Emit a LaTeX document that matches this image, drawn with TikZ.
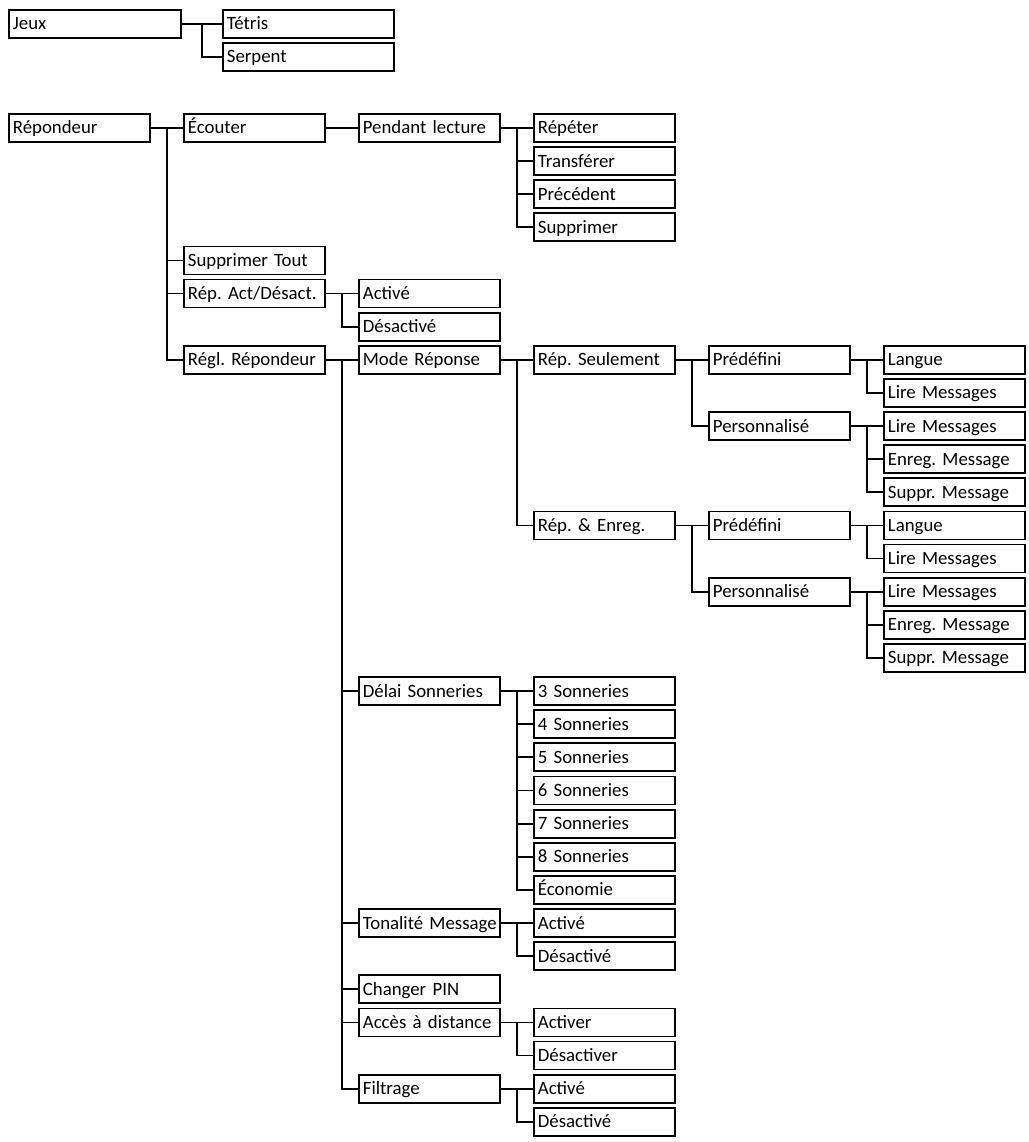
\documentclass[tikz,border=0pt]{standalone}
\usepackage{fontspec}
\setmainfont{Carlito}
\usetikzlibrary{calc}
\frenchspacing
\begin{document}
\begin{tikzpicture}[x=1pt,y=-1pt,
  declare function={ry(\i)=113+33.13*\i;},
  box/.style={draw, line width=1.8pt, anchor=north west, minimum height=28pt,
    inner xsep=4pt, inner ysep=0pt, text height=20pt, text depth=8pt,
    align=left, text width=133pt, font=\fontsize{18.8}{20}\selectfont},
  link/.style={line width=1.8pt}]
\useasboundingbox (0,0) rectangle (1028,1142);
% Jeux
\node[box, text width=164pt] (jeux) at (8,9) {Jeux};
\node[box, text width=163pt] (tetris) at (222,9) {Tétris};
\node[box, text width=163pt] (serpent) at (222,42) {Serpent};
% Répondeur
\node[box] (rep) at (8,{ry(0)}) {Répondeur};
\node[box] (ecouter) at (183,{ry(0)}) {Écouter};
\node[box] (pend) at (358,{ry(0)}) {Pendant lecture};
\node[box] (repeter) at (533,{ry(0)}) {Répéter};
\node[box] (transferer) at (533,{ry(1)}) {Transférer};
\node[box] (precedent) at (533,{ry(2)}) {Précédent};
\node[box] (supprimer) at (533,{ry(3)}) {Supprimer};
\node[box] (supptout) at (183,{ry(4)}) {Supprimer Tout};
\node[box] (repact) at (183,{ry(5)}) {Rép. Act/Désact.};
\node[box] (act1) at (358,{ry(5)}) {Activé};
\node[box] (des1) at (358,{ry(6)}) {Désactivé};
\node[box] (regl) at (183,{ry(7)}) {Régl. Répondeur};
\node[box] (mode) at (358,{ry(7)}) {Mode Réponse};
\node[box] (seul) at (533,{ry(7)}) {Rép. Seulement};
\node[box] (pre1) at (708,{ry(7)}) {Prédéfini};
\node[box] (lang1) at (883,{ry(7)}) {Langue};
\node[box] (lire1) at (883,{ry(8)}) {Lire Messages};
\node[box] (pers1) at (708,{ry(9)}) {Personnalisé};
\node[box] (lire2) at (883,{ry(9)}) {Lire Messages};
\node[box] (enreg1) at (883,{ry(10)}) {Enreg. Message};
\node[box] (suppr1) at (883,{ry(11)}) {Suppr. Message};
\node[box] (enr) at (533,{ry(12)}) {Rép. \& Enreg.};
\node[box] (pre2) at (708,{ry(12)}) {Prédéfini};
\node[box] (lang2) at (883,{ry(12)}) {Langue};
\node[box] (lire3) at (883,{ry(13)}) {Lire Messages};
\node[box] (pers2) at (708,{ry(14)}) {Personnalisé};
\node[box] (lire4) at (883,{ry(14)}) {Lire Messages};
\node[box] (enreg2) at (883,{ry(15)}) {Enreg. Message};
\node[box] (suppr2) at (883,{ry(16)}) {Suppr. Message};
\node[box] (delai) at (358,{ry(17)}) {Délai Sonneries};
\node[box] (s3) at (533,{ry(17)}) {3 Sonneries};
\node[box] (s4) at (533,{ry(18)}) {4 Sonneries};
\node[box] (s5) at (533,{ry(19)}) {5 Sonneries};
\node[box] (s6) at (533,{ry(20)}) {6 Sonneries};
\node[box] (s7) at (533,{ry(21)}) {7 Sonneries};
\node[box] (s8) at (533,{ry(22)}) {8 Sonneries};
\node[box] (eco) at (533,{ry(23)}) {Économie};
\node[box] (tonal) at (358,{ry(24)}) {\mbox{Tonalité Message}};
\node[box] (act2) at (533,{ry(24)}) {Activé};
\node[box] (des2) at (533,{ry(25)}) {Désactivé};
\node[box] (pin) at (358,{ry(26)}) {Changer PIN};
\node[box] (acces) at (358,{ry(27)}) {\mbox{Accès à distance}};
\node[box] (activer) at (533,{ry(27)}) {Activer};
\node[box] (desactiver) at (533,{ry(28)}) {Désactiver};
\node[box] (filt) at (358,{ry(29)}) {Filtrage};
\node[box] (act3) at (533,{ry(29)}) {Activé};
\node[box] (des3) at (533,{ry(30)}) {Désactivé};
% connectors
\foreach \p/\c in {jeux/tetris, jeux/serpent,
  rep/ecouter, rep/supptout, rep/repact, rep/regl,
  ecouter/pend,
  pend/repeter, pend/transferer, pend/precedent, pend/supprimer,
  repact/act1, repact/des1,
  regl/mode, regl/delai, regl/tonal, regl/pin, regl/acces, regl/filt,
  mode/seul, mode/enr,
  seul/pre1, seul/pers1, enr/pre2, enr/pers2,
  pre1/lang1, pre1/lire1, pers1/lire2, pers1/enreg1, pers1/suppr1,
  pre2/lang2, pre2/lire3, pers2/lire4, pers2/enreg2, pers2/suppr2,
  delai/s3, delai/s4, delai/s5, delai/s6, delai/s7, delai/s8, delai/eco,
  tonal/act2, tonal/des2, acces/activer, acces/desactiver,
  filt/act3, filt/des3}
  \draw[link] (\p.east) -- ($(\p.east)!0.5!(\p.east -| \c.west)$) |- (\c.west);
\end{tikzpicture}
\end{document}
